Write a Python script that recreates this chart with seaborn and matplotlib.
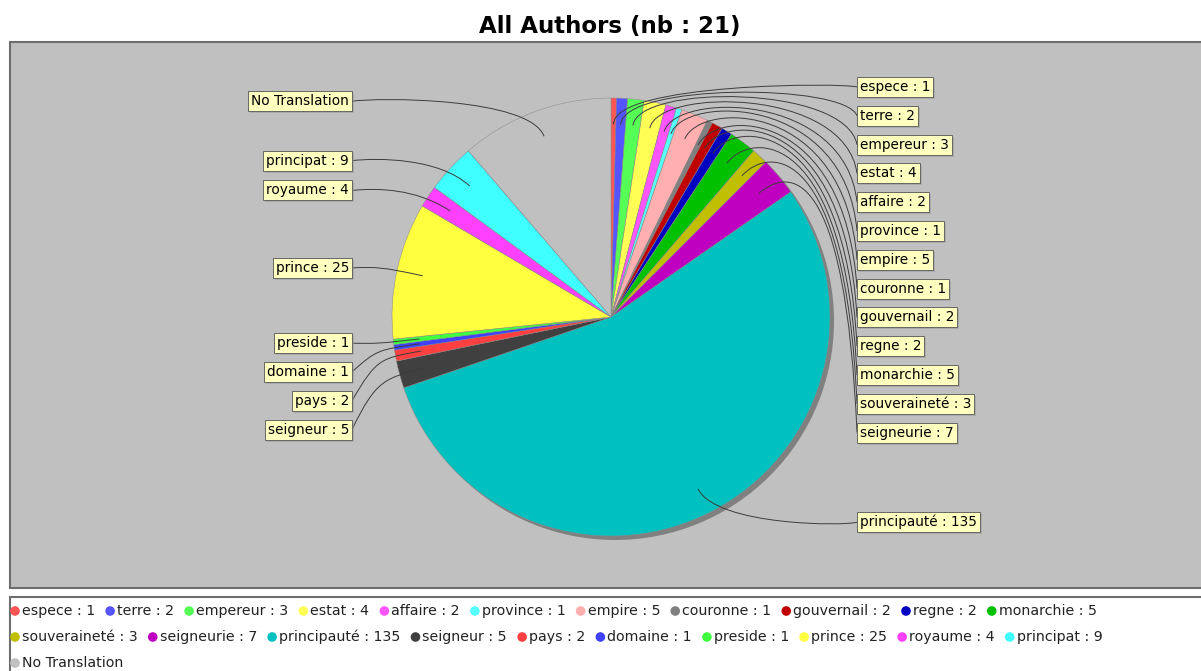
import numpy as np
import matplotlib.pyplot as plt
import seaborn as sns
from matplotlib.path import Path
from matplotlib.patches import PathPatch, Rectangle, Circle

# data (clockwise from 12 o'clock)
words = ["espece", "terre", "empereur", "estat", "affaire", "province", "empire",
         "couronne", "gouvernail", "regne", "monarchie", "souveraineté", "seigneurie",
         "principauté", "seigneur", "pays", "domaine", "preside", "prince",
         "royaume", "principat"]
counts = [1, 2, 3, 4, 2, 1, 5, 1, 2, 2, 5, 3, 7, 135, 5, 2, 1, 1, 25, 4, 9]
other_label = "No Translation"
other_count = 28  # not printed
title = "All Authors (nb : 21)"

# jfreechart default paint sequence
slice_colors = ["#FF5555", "#5555FF", "#55FF55", "#FFFF55", "#FF55FF", "#55FFFF",
                "#FFAFAF", "#808080", "#C00000", "#0000C0", "#00C000", "#C0C000",
                "#C000C0", "#00C0C0", "#404040", "#FF4040", "#4040FF", "#40FF40",
                "#FFFF40", "#FF40FF", "#40FFFF"]
other_color = "#C0C0C0"

labels = [f"{w} : {c}" for w, c in zip(words, counts)] + [other_label]
values = counts + [other_count]
palette = sns.color_palette(slice_colors + [other_color])

sns.set_theme(style="white")
plt.rcParams["font.family"] = ["DejaVu Sans"]

W, H = 1201, 671
fig = plt.figure(figsize=(W / 100, H / 100), dpi=100)
ax = fig.add_axes([0, 0, 1, 1])

# work in pixel coordinates, y going down
cx, cy, r = 611, 317, 219

ax.add_patch(Rectangle((10, 42), W, 546, facecolor="#C0C0C0",
                       edgecolor="#6E6E6E", linewidth=1.5, zorder=0))
ax.add_patch(Rectangle((10, 597), W, 90, facecolor="white",
                       edgecolor="#6E6E6E", linewidth=1.5, zorder=0))
ax.add_patch(Circle((cx + 4, cy + 4), r, facecolor="#808080",
                    edgecolor="none", zorder=1))

wedges, _ = ax.pie(values, colors=palette, startangle=270, counterclock=True,
                   center=(cx, cy), radius=r,
                   wedgeprops=dict(edgecolor="#8A8A8A", linewidth=0.35, zorder=2))

ax.set_xlim(0, W)
ax.set_ylim(H, 0)
ax.set_axis_off()

ax.text(610, 26, title, ha="center", va="center", fontsize=16.5,
        fontweight="bold", color="black")

# --- section labels with cubic links ---
label_ry = 230
step = 28.8
link_r = 1.07 * r
recs = []
for wdg, lab in zip(wedges, labels):
    th = np.deg2rad((wdg.theta1 + wdg.theta2) / 2)
    recs.append(dict(lab=lab, th=th, right=np.cos(th) >= 0,
                     y=cy + label_ry * np.sin(th)))

for side in (True, False):
    group = sorted([d for d in recs if d["right"] == side], key=lambda d: d["y"])
    last = -1e9
    for d in group:
        d["y"] = max(d["y"], last + step)
        last = d["y"]

for d in recs:
    th, ty = d["th"], d["y"]
    sgn = 1 if d["right"] else -1
    anchor_x = cx + sgn * link_r
    box_x = cx + 246 if d["right"] else cx - 259
    elbow = (cx + link_r * np.cos(th), cy + link_r * np.sin(th))
    link = (cx + 0.88 * r * np.cos(th), cy + 0.88 * r * np.sin(th))
    path = Path([(box_x, ty), (anchor_x, elbow[1]), elbow, link],
                [Path.MOVETO, Path.CURVE4, Path.CURVE4, Path.CURVE4])
    ax.add_patch(PathPatch(path, facecolor="none", edgecolor="#3C3C3C",
                           linewidth=0.7, zorder=3))
    tx = box_x + 3 * sgn
    ha = "left" if d["right"] else "right"
    ax.text(tx + 2, ty + 2, d["lab"], ha=ha, va="center", fontsize=9.8,
            color=(0, 0, 0, 0), zorder=4,
            bbox=dict(boxstyle="square,pad=0.22", facecolor="#979797",
                      edgecolor="none", alpha=0.5))
    ax.text(tx, ty, d["lab"], ha=ha, va="center", fontsize=9.8, color="black",
            zorder=5,
            bbox=dict(boxstyle="square,pad=0.22", facecolor="#FFFFC0",
                      edgecolor="#555555", linewidth=0.6))

# --- flowing legend ---
renderer = fig.canvas.get_renderer()
row_y = 611
x = 10
wrap = 1150
for lab, col in zip(labels, palette):
    t = ax.text(0, 0, lab, fontsize=10.2, va="center", ha="left", color="#222222")
    w = t.get_window_extent(renderer).width
    if x + 12 + w > wrap:
        x = 10
        row_y += 26
    t.set_position((x + 12, row_y))
    ax.add_patch(Circle((x + 5, row_y), 4.8, facecolor=col,
                        edgecolor="none", zorder=3))
    x += 12 + w + 10

fig.savefig("out.png", dpi=100)
